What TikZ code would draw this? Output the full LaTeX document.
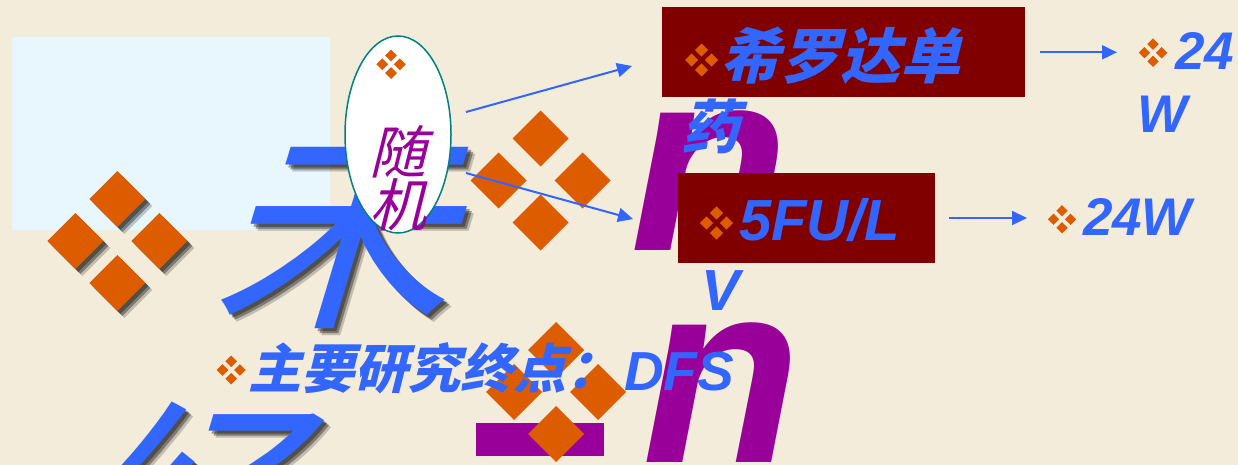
\documentclass[tikz,border=0pt]{standalone}
\usepackage{fontspec}
\usetikzlibrary{arrows.meta,shapes.geometric}
\newfontfamily\cjkfont{Noto Sans CJK SC}[FakeSlant=0.25]
\newfontfamily\cjkbig{Noto Sans CJK SC}[FakeSlant=0.3]
\newfontfamily\latfont{Liberation Sans}
\definecolor{bg}{HTML}{F4ECDA}
\definecolor{tblue}{HTML}{3366FF}
\definecolor{dorange}{HTML}{DD5C00}
\definecolor{dpurple}{HTML}{990099}
\definecolor{dred}{HTML}{800000}
\definecolor{lblue}{HTML}{E8F6FD}
\definecolor{tealline}{HTML}{008080}
\tikzset{
  bul/.pic={\foreach \dx/\dy in {0/-0.6,-0.6/0,0.6/0,0/0.6}
    \fill[dorange] (\dx,\dy) ++(0,-0.4) -- ++(0.4,0.4) -- ++(-0.4,0.4) -- ++(-0.4,-0.4) -- cycle;},
  bulshadow/.pic={\foreach \dx/\dy in {0/-0.6,-0.6/0,0.6/0,0/0.6}
    \fill[black] (\dx,\dy) ++(0,-0.4) -- ++(0.4,0.4) -- ++(-0.4,0.4) -- ++(-0.4,-0.4) -- cycle;},
  txt/.style={anchor=base west, inner sep=0pt, outer sep=0pt},
  cjkb/.style={txt, text=tblue, font={\cjkfont\bfseries\fontsize{#1}{#1}\selectfont}},
  latb/.style={txt, text=tblue, font={\latfont\bfseries\itshape\fontsize{#1}{#1}\selectfont}},
  bigch/.style={txt, font={\cjkbig\fontsize{240}{240}\selectfont}},
  bign/.style={txt, text=dpurple, font={\latfont\bfseries\itshape\fontsize{260}{260}\selectfont}},
  arr/.style={draw=tblue, line width=2pt, -{Triangle[length=15pt,width=14pt]}},
  redbox/.style={fill=dred, inner sep=0pt, outer sep=0pt, anchor=north west},
}
\begin{document}
\begin{tikzpicture}[x=1pt,y=-1pt]
\useasboundingbox (0,0) rectangle (1238,465);
\fill[bg] (0,0) rectangle (1238,465);
\fill[lblue] (12,37) rectangle (330,230);
% big glyphs with shadow
\foreach \o/\op in {3/0.35,5/0.35,7/0.2} {
  \node[bigch, text=black, opacity=\op] (shA\o) at (210+\o,309+\o) {未};
  \node[bigch, text=black, opacity=\op] (shB\o) at (55+\o,603+\o) {经};
}
\node[bigch, text=tblue] (bigA) at (210,309) {未};
\node[bigch, text=tblue] (bigB) at (55,603) {经};
% big bullet with shadow
\foreach \o/\op in {3/0.35,5/0.35,7/0.2}
  \pic[opacity=\op, scale=70] at (117.3+\o,241+\o) {bulshadow};
\pic[scale=70] at (117.3,241) {bul};
% big plain bullet
\pic[scale=70] at (540.7,180.5) {bul};
% bottom bullet with purple bar
\fill[dpurple] (475.7,423.3) rectangle (603.7,455.7);
\pic[scale=70] at (556,392) {bul};
% purple n letters
\node[bign] (n1) at (630,250) {n};
\node[bign] (n2) at (642,462) {n};
% ellipse
\node[ellipse, draw=tealline, line width=1.5pt, fill=white, minimum width=106pt, minimum height=197pt, inner sep=0pt] (rnd) at (398,134.5) {};
\pic[scale=14.7] at (391,64.3) {bul};
\node[anchor=base, inner sep=0pt, text=dpurple, font={\cjkfont\fontsize{57}{57}\selectfont}] (sui) at (398,174) {随};
\node[anchor=base, inner sep=0pt, text=dpurple, font={\cjkfont\fontsize{57}{57}\selectfont}] (ji) at (398,226) {机};
% boxes
\node[redbox, minimum width=363pt, minimum height=90pt] (box1) at (662,7) {};
\node[redbox, minimum width=257pt, minimum height=90pt] (box2) at (678,173) {};
% arrows
\coordinate (a1s) at (466,112); \coordinate (a1e) at (632,66);
\coordinate (a2s) at (466,173); \coordinate (a2e) at (633,219);
\coordinate (a3s) at (1040,52.3); \coordinate (a3e) at (1117,52.3);
\coordinate (a4s) at (949,218); \coordinate (a4e) at (1027,218);
\draw[arr] (a1s) -- (a1e);
\draw[arr] (a2s) -- (a2e);
\draw[arr] (a3s) -- (a3e);
\draw[arr] (a4s) -- (a4e);
% texts
\pic[scale=16.5] at (701.5,60) {bul};
\node[cjkb=60] (t1) at (720,79) {希罗达单};
\node[cjkb=58] (t1b) at (681,149) {药};
\pic[scale=16.7] at (716.5,223) {bul};
\node[latb=58] (t2) at (739,240) {5FU/L};
\node[latb=58] (t2b) at (701,310) {V};
\pic[scale=14.3] at (1153,52.7) {bul};
\node[latb=53] (r1) at (1175,70) {24};
\node[latb=53] (r1b) at (1137,132.7) {W};
\pic[scale=14.2] at (1062,219.3) {bul};
\node[latb=53] (r2) at (1083,235) {24W};
\pic[scale=14.5] at (231.2,370) {bul};
\node[cjkb=53] (ep) at (248,388) {主要研究终点：};
\node[latb=55] (dfs) at (624,390) {DFS};
\end{tikzpicture}
\end{document}
